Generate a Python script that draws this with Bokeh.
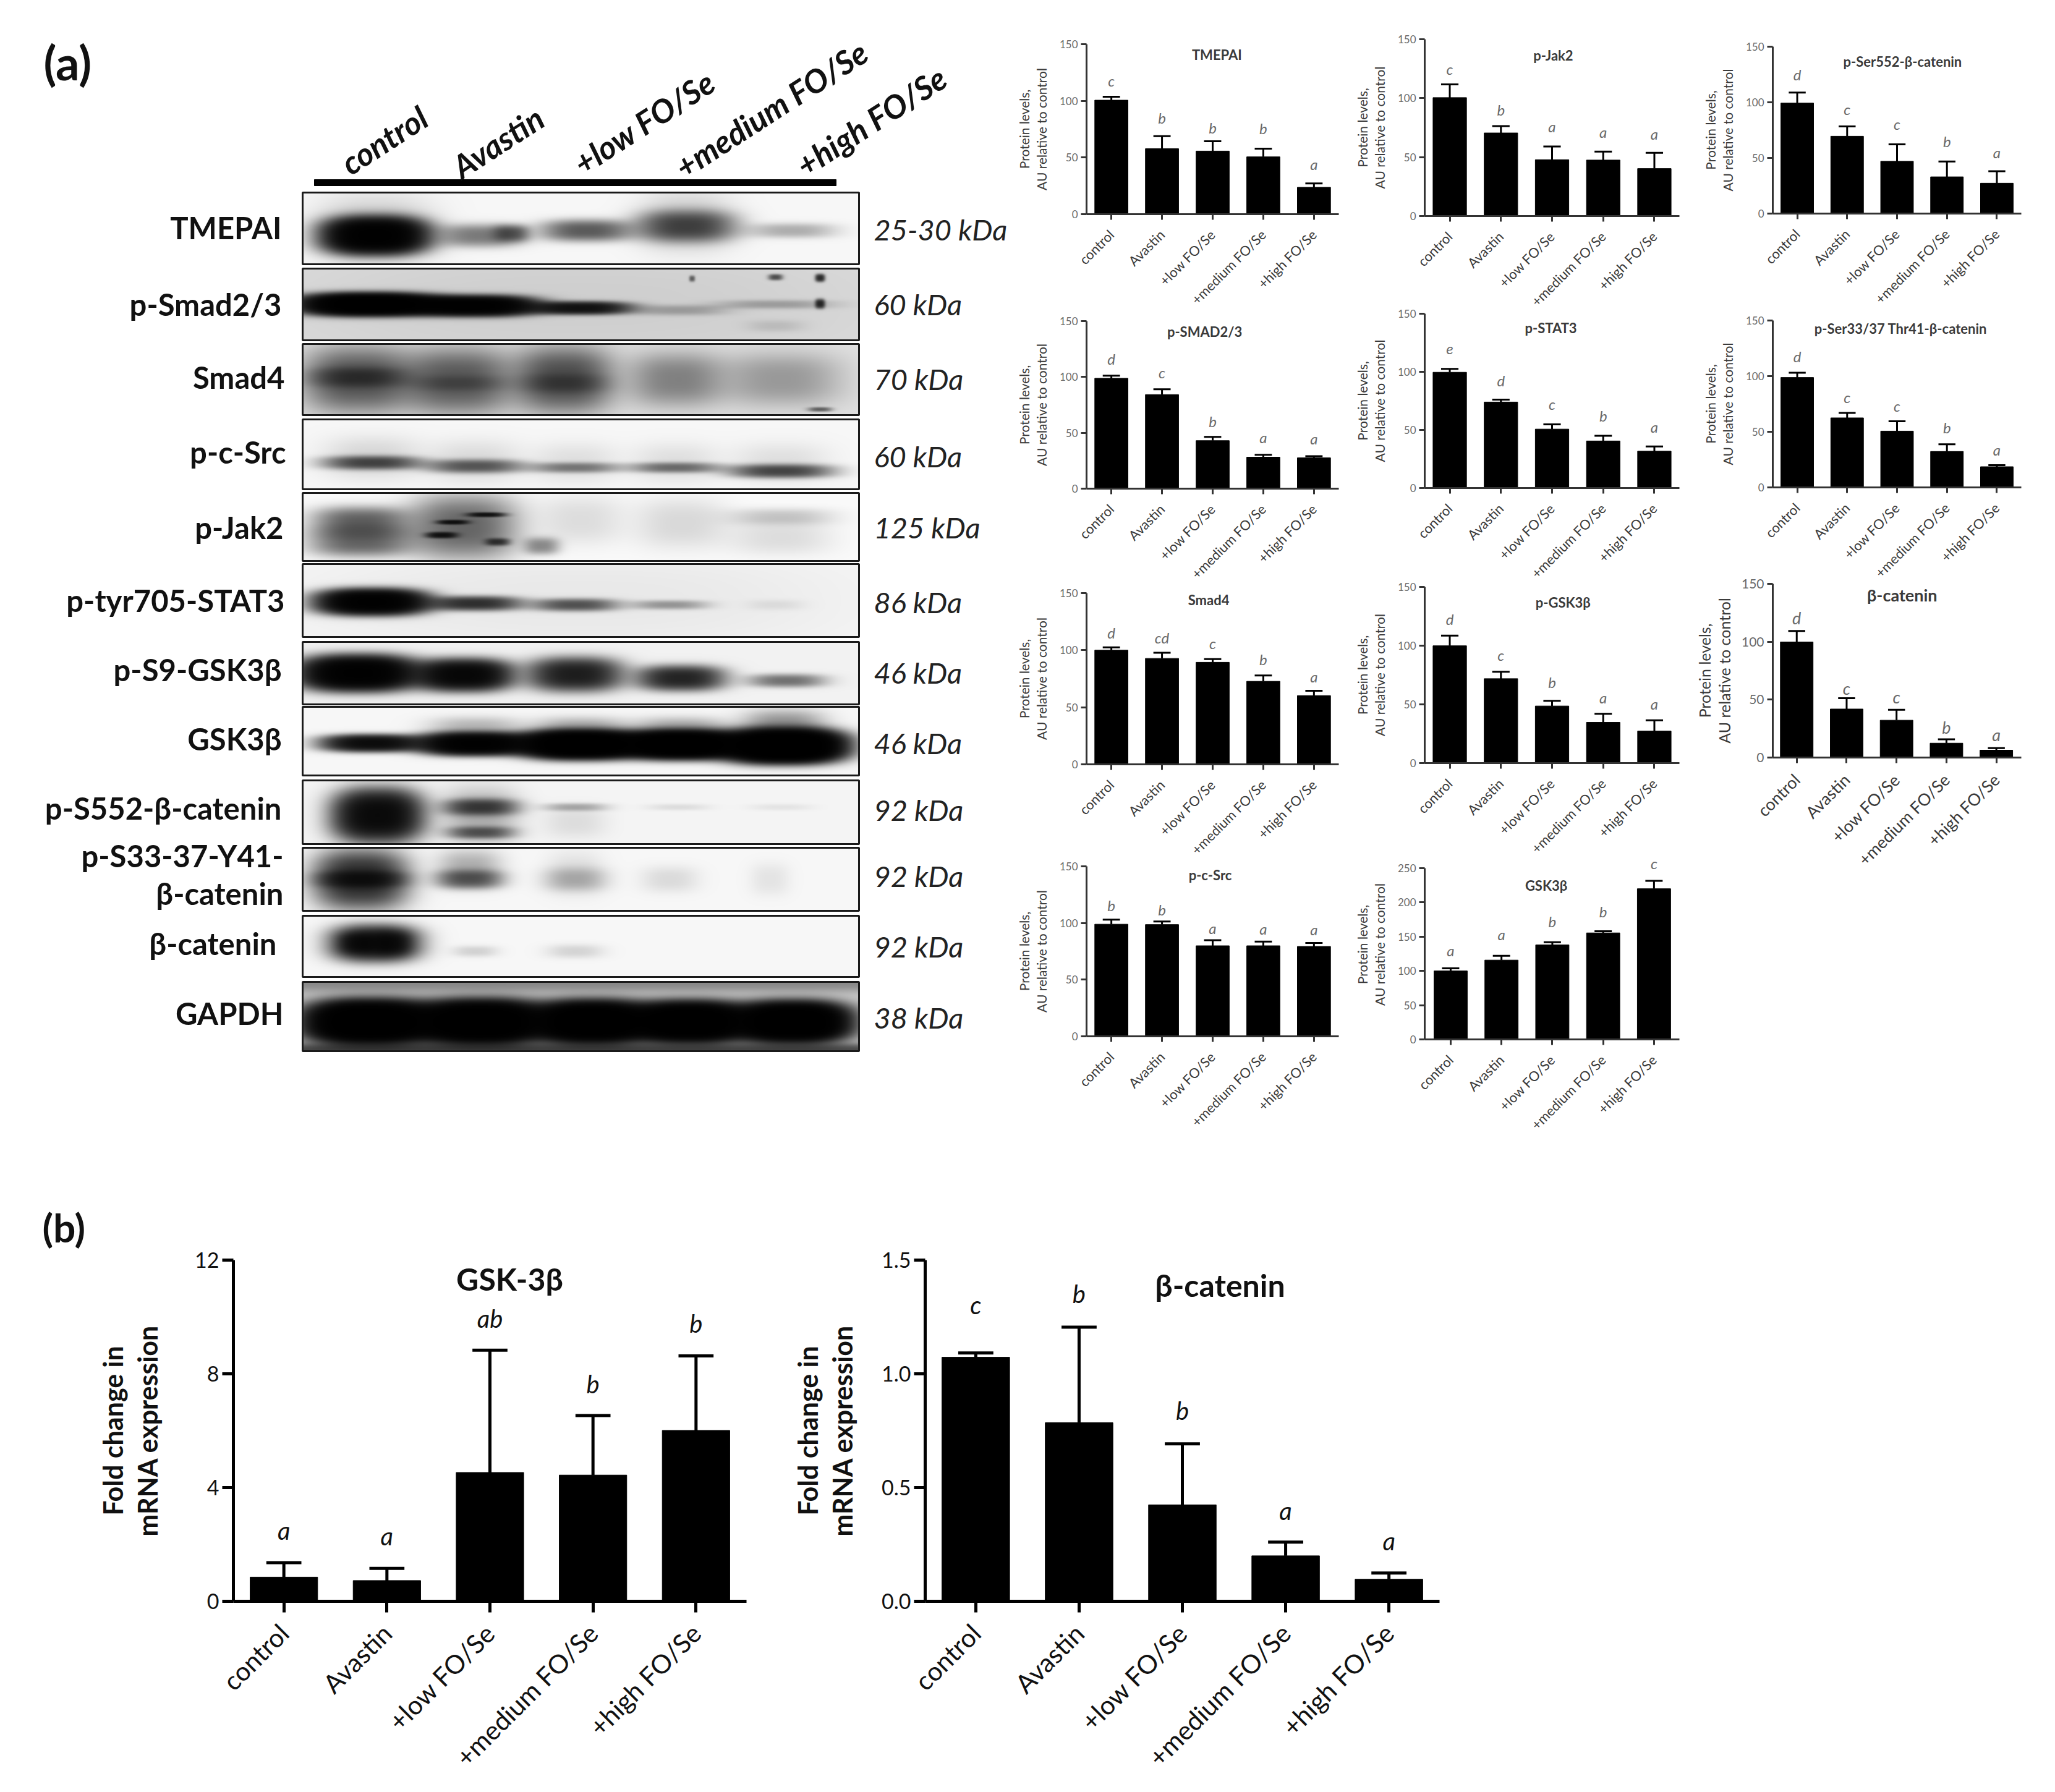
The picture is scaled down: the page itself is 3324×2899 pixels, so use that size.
import math
import numpy as np
from bokeh.embed import file_html
from bokeh.resources import INLINE
from bokeh.plotting import figure
from bokeh.layouts import row, column
from bokeh.models import Range1d, FixedTicker, Label, Spacer, LinearColorMapper
from bokeh.palettes import Greys256

# ---------- data ----------
groups = ["control", "Avastin", "+low FO/Se", "+medium FO/Se", "+high FO/Se"]

tmepai_mean = [100.6, 57.8, 55.7, 50.6, 23.7]
tmepai_top = [103.6, 68.9, 64.4, 57.8, 27.2]
tmepai_sig = ["c", "b", "b", "b", "a"]
smad23_mean = [98.8, 84.2, 43.0, 28.2, 27.6]
smad23_top = [101.2, 89.0, 46.4, 30.3, 29.0]
smad23_sig = ["d", "c", "b", "a", "a"]
smad4_mean = [100.0, 92.8, 89.4, 72.7, 60.2]
smad4_top = [102.5, 97.7, 92.2, 77.9, 64.5]
smad4_sig = ["d", "cd", "c", "b", "a"]
csrc_mean = [98.9, 98.6, 79.9, 79.9, 79.3]
csrc_top = [103.0, 101.3, 84.8, 83.6, 82.3]
csrc_sig = ["b", "b", "a", "a", "a"]
jak2_mean = [100.5, 70.5, 47.8, 47.5, 40.3]
jak2_top = [111.7, 76.3, 59.0, 54.7, 53.6]
jak2_sig = ["c", "b", "a", "a", "a"]
stat3_mean = [99.6, 74.0, 50.7, 40.5, 31.7]
stat3_top = [102.5, 76.0, 54.8, 44.9, 35.8]
stat3_sig = ["e", "d", "c", "b", "a"]
pgsk_mean = [99.9, 71.9, 48.6, 34.7, 27.3]
pgsk_top = [108.5, 77.8, 53.0, 42.0, 36.5]
pgsk_sig = ["d", "c", "b", "a", "a"]
gsk_mean = [100.0, 115.8, 138.0, 155.5, 220.0]
gsk_top = [103.8, 122.0, 142.0, 158.0, 231.6]
gsk_sig = ["a", "a", "b", "b", "c"]
ser552_mean = [99.3, 69.5, 47.0, 33.0, 27.3]
ser552_top = [108.7, 78.3, 62.2, 46.8, 38.0]
ser552_sig = ["d", "c", "c", "b", "a"]
ser33_mean = [98.8, 62.5, 50.6, 32.3, 18.6]
ser33_top = [103.0, 67.0, 59.5, 38.7, 20.0]
ser33_sig = ["d", "c", "c", "b", "a"]
bcat_mean = [99.8, 41.9, 32.2, 12.4, 6.4]
bcat_top = [109.3, 51.2, 41.3, 15.7, 8.2]
bcat_sig = ["d", "c", "c", "b", "a"]
mrna_gsk_mean = [0.85, 0.73, 4.53, 4.44, 6.01]
mrna_gsk_top = [1.36, 1.16, 8.83, 6.53, 8.63]
mrna_gsk_sig = ["a", "a", "ab", "b", "b"]
mrna_bcat_mean = [1.073, 0.785, 0.424, 0.20, 0.097]
mrna_bcat_top = [1.092, 1.205, 0.692, 0.26, 0.124]
mrna_bcat_sig = ["c", "b", "b", "a", "a"]

blot_names = ["TMEPAI", "p-Smad2/3", "Smad4", "p-c-Src", "p-Jak2", "p-tyr705-STAT3", "p-S9-GSK3β", "GSK3β",
              "p-S552-β-catenin", "p-S33-37-Y41-", "β-catenin", "β-catenin", "GAPDH"]
blot_kda = ["25-30 kDa", "60 kDa", "70 kDa", "60 kDa", "125 kDa", "86 kDa", "46 kDa", "46 kDa",
            "92 kDa", "92 kDa", "92 kDa", "38 kDa"]

# ---------- page geometry (all in page pixels) ----------
FONT = "Lato"
ORIGIN = 0
PAGE_RIGHT = 3316
PAGE_BOTTOM = 2895
SPLIT_Y = 1880
BOTTOM_Y = 2015
OVERLAP = 40     # transparent figures may reach into the next one's area
COL_X = [ORIGIN, 1638, 2185, 2738, PAGE_RIGHT]


def small_chart(cell, axes, title, tpos, mean, top, sig, sig_y, ticks=(0, 50, 100, 150),
                big=False, x0=0.51, x1=5.49, head=0, overlap=True):
    """cell=(X0,Y0,X1,Y1); axes=(axis X, Y of zero, Y of top tick, right X)"""
    return dict(cell=cell, axes=axes, title=title, tpos=tpos, mean=mean, top=top, sig=sig, sig_y=sig_y,
                ticks=ticks, big=big, x0=x0, x1=x1, head=head, overlap=overlap,
                tick_size=21 if big else 17, lab_size=27 if big else 22, ylab_size=25 if big else 21,
                title_size=27 if big else 22, sig_size=27 if big else 24,
                ylab_standoff=10 if big else 14, ylab_lh=1.08 if big else 1.13,
                ylab="Protein levels,\nAU relative to control", lw=3, tick_len=9, standoff=22 if big else 20,
                cap=0.17, tcolor="#3a3a3a", scolor="#6a6a6a", axis_color="#333333", ylab_style="normal")


c1, c2, c3 = COL_X[1], COL_X[2], COL_X[3]
charts_col1 = [
    small_chart((c1, 0, c2, 505), (1757, 346, 71, 2171), "TMEPAI", (1971, 88), tmepai_mean, tmepai_top, tmepai_sig,
                [117.7, 85, 76.6, 75.7, 44.3]),
    small_chart((c1, 505, c2, 948), (1755, 790, 519, 2165), "p-SMAD2/3", (1947, 536), smad23_mean, smad23_top, smad23_sig,
                [116, 104, 60.6, 45.8, 44.8]),
    small_chart((c1, 948, c2, 1391), (1756, 1236, 959, 2171), "Smad4", (1957, 970), smad4_mean, smad4_top, smad4_sig,
                [115.6, 111, 106, 92, 77]),
    small_chart((c1, 1391, c2, SPLIT_Y), (1755, 1676, 1401, 2167), "p-c-Src", (1957, 1415), csrc_mean, csrc_top, csrc_sig,
                [115.7, 111.7, 95.2, 94.9, 94.3], overlap=False),
]
charts_col2 = [
    small_chart((c2, 0, c3, 497), (2304, 349, 63, 2732), "p-Jak2", (2520, 89), jak2_mean, jak2_top, jak2_sig,
                [125, 90.4, 76.3, 71.1, 70]),
    small_chart((c2, 497, c3, 935), (2300, 789, 507, 2726), "p-STAT3", (2511, 530), stat3_mean, stat3_top, stat3_sig,
                [119.7, 92.6, 72.2, 62.3, 52.7]),
    small_chart((c2, 935, c3, 1372), (2303, 1234, 949, 2732), "p-GSK3β", (2536, 974), pgsk_mean, pgsk_top, pgsk_sig,
                [122.6, 92, 69, 56, 50.7]),
    small_chart((c2, 1372, c3, SPLIT_Y), (2301, 1681, 1404, 2716), "GSK3β", (2499, 1432), gsk_mean, gsk_top, gsk_sig,
                [130, 153, 172, 187, 257], ticks=(0, 50, 100, 150, 200, 250), x0=0.49, x1=5.5, head=30, overlap=False),
]
charts_col3 = [
    small_chart((c3, 0, PAGE_RIGHT, 505), (2863, 345, 75, 3269), "p-Ser552-β-catenin", (3075, 99), ser552_mean, ser552_top, ser552_sig,
                [125, 94, 80.5, 65, 55]),
    small_chart((c3, 505, PAGE_RIGHT, 927), (2863, 788, 518, 3269), "p-Ser33/37 Thr41-β-catenin", (3072, 531), ser33_mean, ser33_top, ser33_sig,
                [118, 81, 73.5, 53.7, 33.8]),
    small_chart((c3, 927, PAGE_RIGHT, 1420), (2864, 1234, 944, 3300), "β-catenin", (3091, 963), bcat_mean, bcat_top, bcat_sig,
                [120.5, 60, 52.4, 25.9, 19.8], big=True, x0=0.52, x1=5.5, overlap=False),
]

panel_gsk = small_chart((ORIGIN, BOTTOM_Y, 1240, PAGE_BOTTOM), (377, 2590, 2034, 1207), "GSK-3β", (824, 2065),
                        mrna_gsk_mean, mrna_gsk_top, mrna_gsk_sig, [2.5, 2.29, 9.95, 7.64, 9.78], ticks=(0, 4, 8, 12),
                        overlap=False)
panel_bcat = small_chart((1240, BOTTOM_Y, 2400, PAGE_BOTTOM), (1496, 2592, 2038, 2328), "β-catenin", (1973, 2079),
                         mrna_bcat_mean, mrna_bcat_top, mrna_bcat_sig, [1.304, 1.351, 0.838, 0.397, 0.264],
                         ticks=(0, 0.5, 1, 1.5), overlap=False)
for pb, st in ((panel_gsk, 48), (panel_bcat, 35)):
    pb.update(tick_size=34, lab_size=42, ylab_size=43, title_size=50, sig_size=40, lw=5, tick_len=18, standoff=26,
              cap=0.17, tcolor="#111111", scolor="#111111", axis_color="#000000", ylab_style="bold",
              ylab="Fold change in\nmRNA expression", ylab_standoff=st, ylab_lh=1.1)
panel_bcat["tickfmt"] = {0: "0.0", 0.5: "0.5", 1: "1.0", 1.5: "1.5"}


def make_chart(s):
    X0, Y0, X1, Y1 = s["cell"]
    ax, y0, ytop, xr = s["axes"]
    ticks = list(s["ticks"])
    ymax = ticks[-1]
    head = s["head"]
    yend = ymax + head / (y0 - ytop) * ymax
    ov = OVERLAP if s["overlap"] else 0
    p = figure(width=X1 - X0, height=Y1 - Y0 + ov, x_range=Range1d(s["x0"], s["x1"]), y_range=Range1d(0, yend),
               toolbar_location=None, output_backend="svg", outline_line_color=None,
               background_fill_color=None, border_fill_color=None, margin=(0, 0, -ov, 0),
               min_border_left=ax - X0, min_border_right=X1 - xr, min_border_top=ytop - head - Y0,
               min_border_bottom=Y1 + ov - y0)
    p.grid.visible = False
    xs = [1, 2, 3, 4, 5]
    p.vbar(x=xs, top=s["mean"], bottom=0, width=0.655, fill_color="black", line_color="black", line_width=1)
    p.segment(x0=xs, y0=s["mean"], x1=xs, y1=s["top"], line_color="black", line_width=s["lw"])
    p.segment(x0=[x - s["cap"] for x in xs], y0=s["top"], x1=[x + s["cap"] for x in xs], y1=s["top"],
              line_color="black", line_width=s["lw"])
    xa, ya = p.xaxis[0], p.yaxis[0]
    xa.ticker = FixedTicker(ticks=xs)
    xa.major_label_overrides = {i + 1: g for i, g in enumerate(groups)}
    xa.major_label_orientation = math.pi / 4
    xa.major_label_text_font = FONT
    xa.major_label_text_font_size = f"{s['lab_size']}px"
    xa.major_label_text_color = s["tcolor"]
    xa.major_label_standoff = s["standoff"]
    ya.ticker = FixedTicker(ticks=ticks)
    ya.bounds = (0, ymax)
    if "tickfmt" in s:
        ya.major_label_overrides = s["tickfmt"]
    ya.major_label_text_font = FONT
    ya.major_label_text_font_size = f"{s['tick_size']}px"
    ya.major_label_text_color = s["scolor"]
    ya.major_label_standoff = 5
    ya.axis_label = s["ylab"]
    ya.axis_label_text_font = FONT
    ya.axis_label_text_font_size = f"{s['ylab_size']}px"
    ya.axis_label_text_font_style = s["ylab_style"]
    ya.axis_label_text_color = s["tcolor"]
    ya.axis_label_standoff = s["ylab_standoff"]
    ya.axis_label_text_line_height = s["ylab_lh"]
    for a in (xa, ya):
        a.minor_tick_line_color = None
        a.axis_line_color = s["axis_color"]
        a.major_tick_line_color = s["axis_color"]
        a.axis_line_width = s["lw"]
        a.major_tick_line_width = s["lw"]
        a.major_tick_in = 0
        a.major_tick_out = s["tick_len"]

    # significance letters sit in data space
    for i, (letter, yy) in enumerate(zip(s["sig"], s["sig_y"])):
        p.add_layout(Label(x=i + 1, y=yy, text=letter, text_font=FONT, text_font_size=f"{s['sig_size']}px",
                           text_font_style="italic", text_color=s["scolor"], text_align="center",
                           text_baseline="middle"))
    tx = s["x0"] + (s["tpos"][0] - ax) / (xr - ax) * (s["x1"] - s["x0"])
    ty = (y0 - s["tpos"][1]) / (y0 - ytop) * ymax
    p.add_layout(Label(x=tx, y=ty, text=s["title"], text_font=FONT, text_font_size=f"{s['title_size']}px",
                       text_font_style="bold", text_color=s["tcolor"], text_align="center", text_baseline="middle"))
    return p


# ---------- western blot panels: (cx, cy, sx, sy, strength) in fractions of the panel ----------
panels = [
    ((311, 427), 0.03, [(.13, .6, .08, .22, 5), (.13, .5, .10, .45, .2), (.32, .6, .07, .15, .7), (.375, .57, .03, .11, .8),
                        (.51, .53, .075, .14, 1.0), (.69, .47, .08, .2, 1.2), (.69, .4, .08, .42, .18), (.88, .53, .075, .1, .35)]),
    ((434, 550), 0.12, [(.12, .5, .105, .13, 7), (.31, .52, .095, .12, 5), (.50, .55, .08, .08, 2.5), (.68, .58, .08, .07, .3),
                        (.85, .5, .1, .06, .3), (.85, .8, .05, .08, .12), (.93, .49, .008, .06, 1.6), (.93, .13, .008, .05, 1.6),
                        (.85, .12, .012, .04, 1), (.70, .14, .005, .04, .8), (.5, .5, .6, .9, .08)]),
    ((556, 671), 0.12, [(.10, .5, .09, .42, 1.0), (.10, .47, .08, .13, .7), (.28, .52, .09, .42, .95), (.28, .55, .08, .1, .3),
                        (.47, .5, .08, .42, 1.1), (.47, .55, .07, .12, .4), (.67, .5, .08, .36, .55), (.86, .5, .105, .36, .38),
                        (.93, .92, .02, .03, .8)]),
    ((678, 791), 0.03, [(.125, .62, .08, .09, 1.2), (.125, .55, .085, .3, .14), (.31, .67, .08, .09, .95), (.31, .6, .08, .3, .12),
                        (.49, .69, .075, .07, .65), (.49, .62, .075, .28, .1), (.67, .69, .075, .07, .75), (.67, .62, .075, .28, .1),
                        (.86, .74, .085, .09, 1.2), (.86, .62, .085, .28, .1)]),
    ((797, 907), 0.02, [(.105, .42, .08, .2, .95), (.105, .72, .085, .2, .9), (.29, .5, .09, .44, .9), (.27, .43, .025, .03, 2),
                        (.33, .32, .03, .03, 2), (.25, .62, .025, .04, 2), (.35, .72, .02, .05, 1.2),
                        (.5, .4, .075, .35, .12), (.43, .78, .03, .12, .55), (.68, .45, .08, .36, .14),
                        (.86, .35, .09, .12, .22), (.86, .65, .09, .25, .12)]),
    ((912, 1030), 0.03, [(.125, .52, .085, .15, 5), (.31, .54, .075, .09, 1.6), (.49, .56, .07, .08, 1.05), (.66, .56, .065, .06, .45),
                         (.85, .56, .05, .07, .08), (.5, .5, .5, .7, .06)]),
    ((1038, 1139), 0.05, [(.10, .5, .09, .24, 5), (.29, .53, .075, .22, 3.5), (.49, .52, .075, .24, 2.1), (.68, .58, .07, .18, 1.9),
                          (.87, .62, .065, .1, .75)]),
    ((1143, 1254), 0.03, [(.125, .53, .08, .11, 3), (.31, .54, .085, .14, 5), (.50, .55, .09, .17, 8), (.68, .55, .085, .17, 8),
                          (.865, .57, .09, .2, 9), (.31, .3, .08, .15, .3), (.50, .3, .08, .15, .35), (.68, .3, .08, .15, .35),
                          (.865, .25, .07, .2, .5)]),
    ((1262, 1365), 0.04, [(.135, .55, .07, .36, 3.2), (.32, .42, .06, .12, 1.2), (.32, .82, .055, .09, .9), (.32, .55, .065, .42, .35),
                          (.49, .42, .055, .06, .35), (.49, .65, .055, .25, .1), (.675, .42, .055, .05, .1), (.86, .42, .055, .05, .07)]),
    ((1371, 1473), 0.03, [(.105, .5, .075, .42, 1.8), (.105, .5, .07, .12, 1.2), (.30, .5, .055, .14, .9), (.30, .32, .055, .28, .35),
                          (.49, .5, .055, .18, .3), (.49, .4, .05, .35, .1), (.66, .5, .05, .2, .12), (.84, .5, .035, .25, .08)]),
    ((1481, 1580), 0.03, [(.13, .45, .07, .26, 2.6), (.10, .45, .03, .15, 1), (.16, .45, .03, .17, 1), (.31, .58, .04, .09, .16),
                          (.49, .58, .05, .11, .15)]),
    ((1588, 1700), 0.2, [(.12, .58, .095, .26, 8), (.32, .58, .095, .26, 8), (.52, .58, .085, .25, 8), (.695, .58, .085, .24, 8),
                         (.88, .58, .085, .24, 8), (.5, 0, 2, .14, .4), (.5, 1, 2, .1, 1.0)]),
]
BLOT_X = (489, 1389)
TOP_BAR = (508, 1352, 290, 300)
name_pos = [(455, 367), (455, 491), (460, 609), (462, 730), (458, 852), (460, 970), (455, 1082), (455, 1194),
            (455, 1306), (458, 1383), (458, 1444), (447, 1525), (458, 1638)]
kda_y = [370, 491, 612, 737, 852, 973, 1087, 1201, 1309, 1416, 1530, 1645]
lane_start = [(556, 268), (736, 274), (932, 268), (1096, 274), (1292, 271)]

W, H = COL_X[1] - ORIGIN, BOTTOM_Y + OVERLAP - ORIGIN
blot = figure(width=W, height=H, x_range=Range1d(ORIGIN, COL_X[1]), y_range=Range1d(BOTTOM_Y + OVERLAP, ORIGIN),
              toolbar_location=None, output_backend="svg", outline_line_color=None,
              background_fill_color=None, border_fill_color=None, margin=(0, 0, -OVERLAP, 0),
              min_border=0, x_axis_location=None, y_axis_location=None)
blot.grid.visible = False
mapper = LinearColorMapper(palette=Greys256, low=0, high=255)
for (yy, bg, bands) in panels:
    w, h = BLOT_X[1] - BLOT_X[0], yy[1] - yy[0]
    gx, gy = np.meshgrid((np.arange(w) + .5) / w, (np.arange(h) + .5) / h)
    s = np.zeros_like(gx)
    for cx, cy, sx, sy, amp in bands:
        s += amp * np.exp(-(np.abs((gx - cx) / sx) ** 2.6 + np.abs((gy - cy) / sy) ** 2.6))
    bright = (1 - bg) * np.exp(-s) * 255
    arr = np.clip(bright, 0, 255).astype(np.uint8)[::-1]
    blot.image(image=[arr], x=BLOT_X[0], y=yy[0], dw=w, dh=h, color_mapper=mapper, anchor="bottom_left", origin="top_left")
    blot.quad(left=[BLOT_X[0]], right=[BLOT_X[1]], top=[yy[0]], bottom=[yy[1]], fill_color=None, line_color="#1a1a1a", line_width=3)
blot.quad(left=[TOP_BAR[0]], right=[TOP_BAR[1]], top=[TOP_BAR[2]], bottom=[TOP_BAR[3]], fill_color="black", line_color="black")


def blabel(x, y, text, size, style="bold", align="right", angle=0.0, baseline="middle", color="#111111"):
    blot.add_layout(Label(x=x, y=y, text=text, text_font=FONT, text_font_size=f"{size}px", text_font_style=style,
                          text_align=align, text_baseline=baseline, angle=angle, text_color=color))


blabel(70, 100, "(a)", 76, align="left")
blabel(68, 1985, "(b)", 64, align="left")
for (x, y), t in zip(name_pos, blot_names):
    blabel(x, y, t, 49)
for y, t in zip(kda_y, blot_kda):
    blabel(1413, y, t, 47, style="italic", align="left", color="#222222")
for (x, y), t in zip(lane_start, groups):
    blabel(x, y, t, 52, style="bold italic", align="left", angle=math.radians(33), baseline="alphabetic")

col1 = column([make_chart(s) for s in charts_col1], spacing=0)
col2 = column([make_chart(s) for s in charts_col2], spacing=0)
c3_figs = [make_chart(s) for s in charts_col3]
col3 = column(c3_figs + [Spacer(width=PAGE_RIGHT - c3, height=SPLIT_Y - 1420)], spacing=0)
top_row = row([blot, col1, col2, col3], spacing=0)
bottom_row = row([make_chart(panel_gsk), make_chart(panel_bcat)], spacing=0)
page = column([top_row, bottom_row], spacing=0)

open("out.html", "w").write(file_html(page, INLINE))
